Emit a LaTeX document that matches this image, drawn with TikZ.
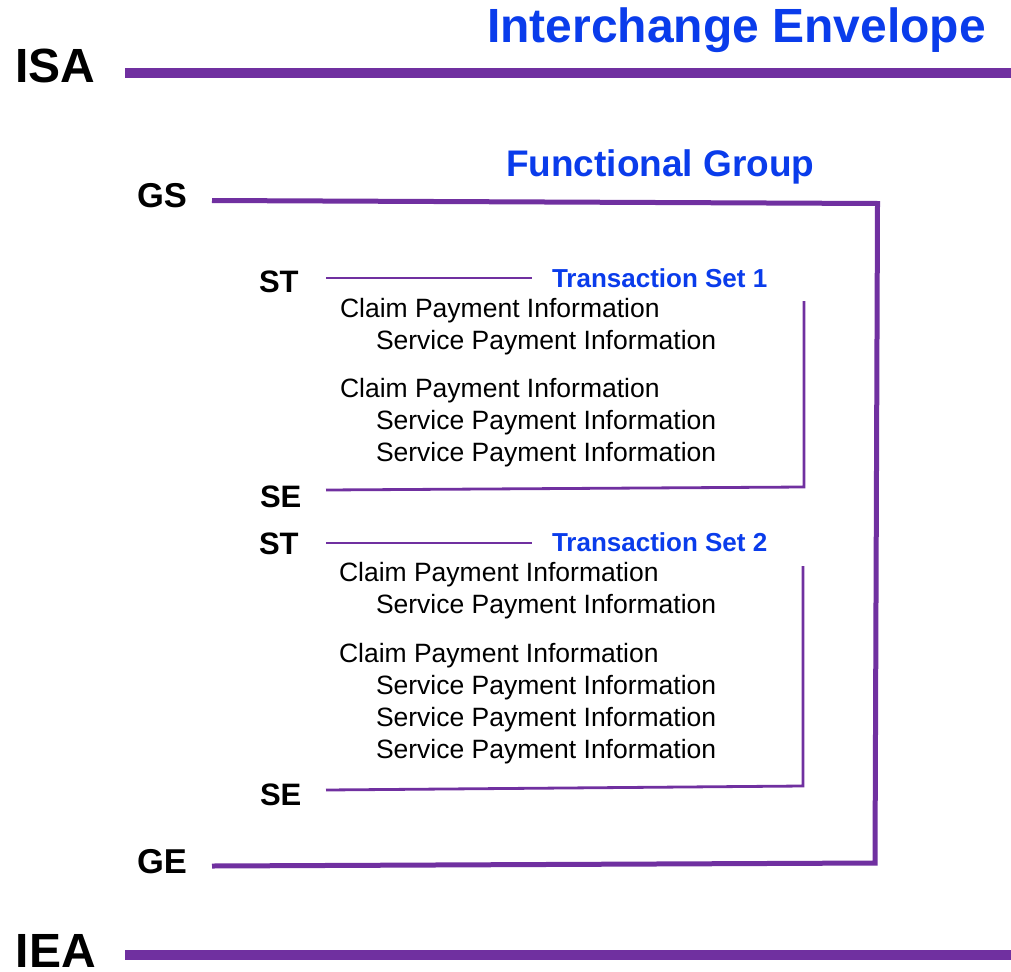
\documentclass[tikz,border=0pt]{standalone}
\usepackage{fontspec}
\setmainfont{Liberation Sans}
\definecolor{envpurple}{RGB}{112,48,160}
\definecolor{ttlblue}{RGB}{10,60,235}
\begin{document}
\begin{tikzpicture}[x=1pt,y=-1pt,
  txt/.style={anchor=base west,inner sep=0pt,outer sep=0pt},
  seg/.style={txt,font=\fontsize{31}{31}\selectfont\bfseries},
  grp/.style={txt,font=\fontsize{34.5}{34.5}\selectfont\bfseries},
  env/.style={txt,font=\fontsize{48}{48}\selectfont\bfseries},
  ttl/.style={txt,text=ttlblue,font=\fontsize{#1}{#1}\selectfont\bfseries},
  body/.style={txt,font=\fontsize{26.5}{26.5}\selectfont},
  envline/.style={draw=envpurple,line width=10pt},
  grpline/.style={draw=envpurple,line width=5pt,line join=miter},
  setline/.style={draw=envpurple,line width=2.8pt,line join=miter},
  stline/.style={draw=envpurple,line width=2pt}]
\useasboundingbox (0,0) rectangle (1011,971);
% Interchange envelope
\node[env] (isa) at (15,83) {ISA};
\node[ttl=48] (ienv) at (487,43) {Interchange Envelope};
\coordinate (isaL) at (125,73);
\coordinate (isaR) at (1011,73);
\path[envline] (isaL) -- (isaR);
\node[env] (iea) at (16,967) {IEA};
\coordinate (ieaL) at (125,955);
\coordinate (ieaR) at (1011,955);
\path[envline] (ieaL) -- (ieaR);
% Functional group
\node[grp] (gs) at (137,207) {GS};
\node[ttl=37] (fgrp) at (506,176) {Functional Group};
\node[grp] (ge) at (137,873) {GE};
\coordinate (gsL) at (212,200.5);
\coordinate (gsR) at (877.5,203.5);
\coordinate (geR) at (875,863);
\coordinate (geL) at (212,866);
\path[grpline] (gsL) -- (gsR) -- (geR) -- (geL);
% Transaction set 1
\node[seg] (st1) at (259,292) {ST};
\node[ttl=26] (ts1) at (552,287) {Transaction Set 1};
\coordinate (st1L) at (326,278);
\coordinate (st1R) at (532,278);
\path[stline] (st1L) -- (st1R);
\node[body] (c11) at (340,317) {Claim Payment Information};
\node[body] (s11) at (376,349) {Service Payment Information};
\node[body] (c12) at (340,397) {Claim Payment Information};
\node[body] (s12) at (376,429) {Service Payment Information};
\node[body] (s13) at (376,461) {Service Payment Information};
\node[seg] (se1) at (260,507) {SE};
\coordinate (v1T) at (804,301);
\coordinate (v1B) at (804,487);
\coordinate (se1L) at (326,490);
\path[setline] (v1T) -- (v1B) -- (se1L);
% Transaction set 2
\node[seg] (st2) at (259,554) {ST};
\node[ttl=26] (ts2) at (552,551) {Transaction Set 2};
\coordinate (st2L) at (326,543);
\coordinate (st2R) at (532,543);
\path[stline] (st2L) -- (st2R);
\node[body] (c21) at (339,581) {Claim Payment Information};
\node[body] (s21) at (376,613) {Service Payment Information};
\node[body] (c22) at (339,662) {Claim Payment Information};
\node[body] (s22) at (376,694) {Service Payment Information};
\node[body] (s23) at (376,726) {Service Payment Information};
\node[body] (s24) at (376,758) {Service Payment Information};
\node[seg] (se2) at (260,805) {SE};
\coordinate (v2T) at (803,566);
\coordinate (v2B) at (803,786);
\coordinate (se2L) at (326,790);
\path[setline] (v2T) -- (v2B) -- (se2L);
\end{tikzpicture}
\end{document}
